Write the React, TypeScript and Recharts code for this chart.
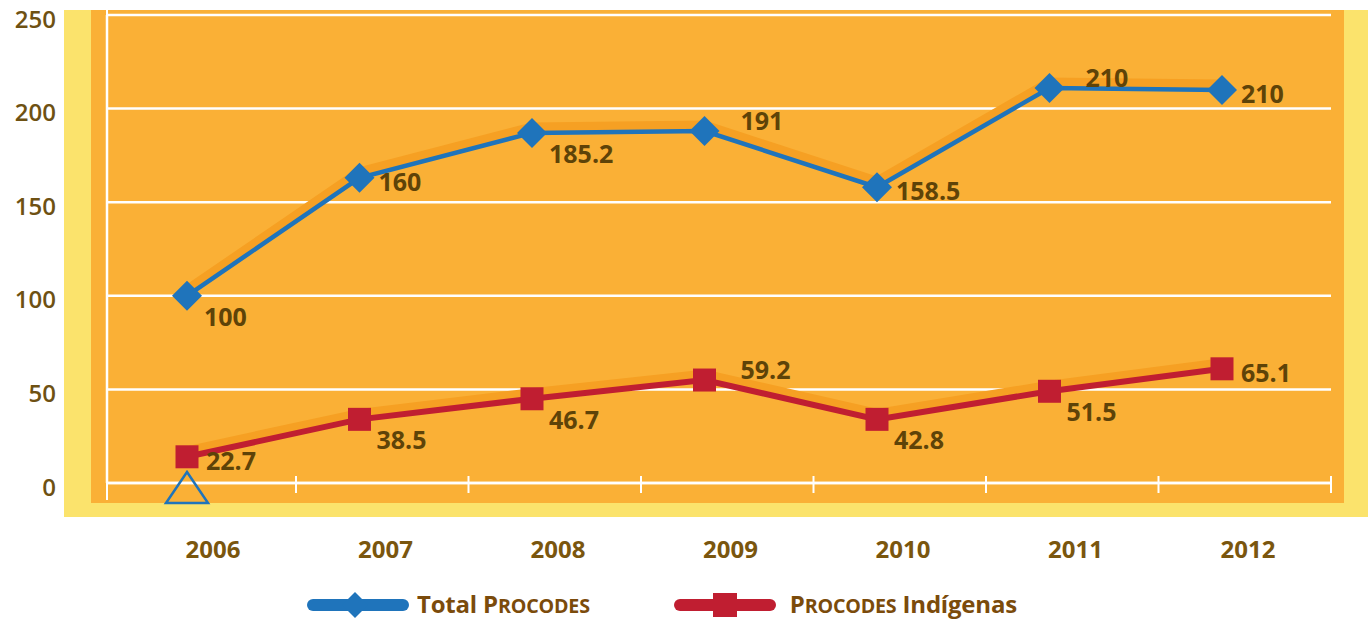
import React from "react";
import {
  LineChart,
  Line,
  XAxis,
  YAxis,
  CartesianGrid,
  LabelList,
  Legend,
  ReferenceDot,
} from "recharts";

const years = ["2006", "2007", "2008", "2009", "2010", "2011", "2012"];
// where the markers sit in the picture
const totalValues = [100, 163, 187, 188, 158, 211, 210];
const indigenasValues = [14, 34, 45, 55, 34, 49, 61];
// printed labels (they do not match the marker heights in the original)
const totalLabels = ["100", "160", "185.2", "191", "158.5", "210", "210"];
const indigenasLabels = ["22.7", "38.5", "46.7", "59.2", "42.8", "51.5", "65.1"];
const yTicks = [0, 50, 100, 150, 200, 250];

const seriesNames = ["Total Procodes", "Procodes Indígenas"];

// label placement around the marker: below / right / above
const totalPlacement = ["below", "right", "below", "above", "right", "above", "right"];
const indigenasPlacement = ["right", "below", "below", "above", "below", "below", "right"];

const data = years.map((year, i) => ({
  year,
  total: totalValues[i],
  indigenas: indigenasValues[i],
  totalLabel: totalLabels[i],
  indigenasLabel: indigenasLabels[i],
}));

const BLUE = "#1F74BB";
const RED = "#C01E31";
const SHADOW = "#F6A023";
const FONT = "'Open Sans', 'Noto Sans', sans-serif";

const placementOffset: Record<string, { dx: number; dy: number }> = {
  below: { dx: 17, dy: 20 },
  right: { dx: 19, dy: 3 },
  above: { dx: 36, dy: -11 },
};

const makeLabel = (placement: string[]) => (props: any) => {
  const { x, y, value, index } = props;
  const off = placementOffset[placement[index]] || placementOffset.right;
  return (
    <text
      x={x + off.dx}
      y={y + off.dy}
      dominantBaseline="central"
      textAnchor="start"
      fontFamily={FONT}
      fontWeight={700}
      fontSize={25}
      fill="#5E4308"
    >
      {value}
    </text>
  );
};

const Diamond = (props: any) => {
  const { cx, cy } = props;
  if (cx == null || cy == null) return null;
  const r = 15;
  return (
    <polygon
      points={`${cx},${cy - r} ${cx + r},${cy} ${cx},${cy + r} ${cx - r},${cy}`}
      fill={BLUE}
    />
  );
};

const Square = (props: any) => {
  const { cx, cy } = props;
  if (cx == null || cy == null) return null;
  const s = 23;
  return <rect x={cx - s / 2} y={cy - s / 2} width={s} height={s} fill={RED} />;
};

const YearTick = (props: any) => {
  const { x, y, payload } = props;
  return (
    <g>
      <line x1={x + 109} x2={x + 109} y1={y - 7} y2={y + 10} stroke="#fff" strokeWidth={2} />
      <text
        x={x + 26}
        y={y + 75}
        textAnchor="middle"
        fontFamily={FONT}
        fontWeight={700}
        fontSize={24}
        fill="#7A560E"
      >
        {payload.value}
      </text>
    </g>
  );
};

const ValueTick = (props: any) => {
  const { x, y, payload } = props;
  return (
    <g>
      {payload.value === 0 && (
        <line x1={x + 51} x2={x + 51} y1={y} y2={y + 17} stroke="#fff" strokeWidth={2} />
      )}
      {payload.value === 250 && (
        <line x1={x + 51} x2={x + 51} y1={y} y2={y - 6} stroke="#fff" strokeWidth={2} />
      )}
      <text
        x={x}
        y={y}
        dy={3}
        textAnchor="end"
        dominantBaseline="central"
        fontFamily={FONT}
        fontWeight={600}
        fontSize={24}
        fill="#6E5113"
      >
        {payload.value}
      </text>
    </g>
  );
};

// "Procodes" is set in small capitals in the original legend
const LegendName = ({ name }: { name: string }) => (
  <span>
    {name.split(" ").map((w, i) => (
      <span key={i}>
        {i > 0 ? " " : ""}
        {w === "Procodes" ? (
          <>
            {w[0]}
            <span style={{ fontSize: "0.82em" }}>{w.slice(1).toUpperCase()}</span>
          </>
        ) : (
          w
        )}
      </span>
    ))}
  </span>
);

const LegendContent = () => (
  <div
    style={{
      display: "flex",
      alignItems: "center",
      height: 28,
      lineHeight: "28px",
      paddingLeft: 307,
      fontFamily: FONT,
      fontWeight: 700,
      fontSize: 24,
      color: "#7B4B0B",
      whiteSpace: "nowrap",
      letterSpacing: -0.2,
    }}
  >
    <svg width={102} height={28}>
      <rect x={0} y={8} width={102} height={12} rx={6} fill={BLUE} />
      <polygon points="48,1 61,14 48,27 35,14" fill={BLUE} />
    </svg>
    <span style={{ marginLeft: 8 }}>
      <LegendName name={seriesNames[0]} />
    </span>
    <svg width={102} height={28} style={{ marginLeft: 84 }}>
      <rect x={0} y={8} width={102} height={12} rx={6} fill={RED} />
      <rect x={39} y={2} width={24} height={24} fill={RED} />
    </svg>
    <span style={{ marginLeft: 14 }}>
      <LegendName name={seriesNames[1]} />
    </span>
  </div>
);

export default function App() {
  return (
    <div style={{ position: "absolute", left: 0, top: 0, width: 1370, height: 619, overflow: "hidden", background: "#fff" }}>
      <style>{`.line-shadow { transform: translateY(-5px); }`}</style>
      <div style={{ position: "absolute", left: 64, top: 10, width: 1304, height: 507, background: "#FBE36C" }} />
      <div style={{ position: "absolute", left: 91, top: 10, width: 1253, height: 493, background: "#FAB036" }} />
      <div style={{ position: "absolute", left: 0, top: 0 }}>
        <LineChart
          width={1370}
          height={619}
          data={data}
          margin={{ top: 15, right: 39, bottom: 28, left: 0 }}
        >
          <CartesianGrid horizontal vertical={false} stroke="#fff" strokeWidth={2.5} strokeOpacity={1} />
          <XAxis
            dataKey="year"
            height={80}
            padding={{ left: 80, right: 109 }}
            axisLine={{ stroke: "#fff", strokeWidth: 2.5 }}
            tickLine={false}
            tickSize={0}
            tickMargin={0}
            tick={<YearTick />}
            interval={0}
          />
          <YAxis
            width={107}
            domain={[0, 250]}
            ticks={yTicks}
            interval={0}
            axisLine={{ stroke: "#fff", strokeWidth: 2.5 }}
            tickLine={false}
            tickSize={0}
            tickMargin={51}
            tick={<ValueTick />}
          />
          <Line
            dataKey="total"
            className="line-shadow"
            stroke={SHADOW}
            strokeWidth={11}
            dot={false}
            activeDot={false}
            legendType="none"
            isAnimationActive={false}
          />
          <Line
            dataKey="indigenas"
            className="line-shadow"
            stroke={SHADOW}
            strokeWidth={11}
            dot={false}
            activeDot={false}
            legendType="none"
            isAnimationActive={false}
          />
          <Line
            dataKey="total"
            name={seriesNames[0]}
            stroke={BLUE}
            strokeWidth={4.5}
            dot={<Diamond />}
            activeDot={false}
            isAnimationActive={false}
          >
            <LabelList dataKey="totalLabel" content={makeLabel(totalPlacement)} />
          </Line>
          <Line
            dataKey="indigenas"
            name={seriesNames[1]}
            stroke={RED}
            strokeWidth={6}
            dot={<Square />}
            activeDot={false}
            isAnimationActive={false}
          >
            <LabelList dataKey="indigenasLabel" content={makeLabel(indigenasPlacement)} />
          </Line>
          <ReferenceDot
            x="2006"
            y={0}
            ifOverflow="visible"
            shape={(p: any) => (
              <polygon
                points={`${p.cx},${p.cy - 11} ${p.cx + 21},${p.cy + 20} ${p.cx - 21},${p.cy + 20}`}
                fill="none"
                stroke={BLUE}
                strokeWidth={2.5}
              />
            )}
          />
          <Legend
            verticalAlign="bottom"
            content={<LegendContent />}
            wrapperStyle={{ left: 0, top: 591, bottom: "auto", width: 1370, height: 28 }}
          />
        </LineChart>
      </div>
    </div>
  );
}
